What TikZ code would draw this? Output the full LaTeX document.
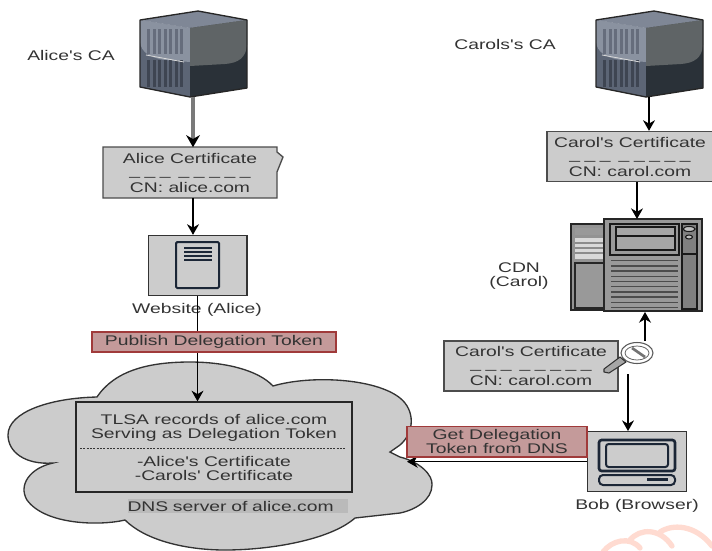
\documentclass[tikz,border=0pt]{standalone}
\usepackage{fontspec}
\newfontfamily\lblfont[FakeStretch=1.38]{Liberation Sans}
\usetikzlibrary{arrows.meta}
\definecolor{txt}{HTML}{333333}
\definecolor{boxgray}{HTML}{CCCCCC}
\definecolor{pinkfill}{HTML}{C49A9A}
\definecolor{pinkline}{HTML}{A03A3A}
\definecolor{navy}{HTML}{1B2636}
\definecolor{cubetop}{HTML}{7F8796}
\definecolor{cubeleft}{HTML}{5C6575}
\definecolor{cubegloss}{HTML}{8A92A0}
\definecolor{cubedark}{HTML}{2A3138}
\definecolor{cubemid}{HTML}{5F6466}
\definecolor{barhi}{HTML}{666D7C}
\definecolor{barlo}{HTML}{3E4552}
\definecolor{grayconn}{HTML}{7A7A7A}
\newcommand{\dashrow}{\_\hspace{3.4pt}\_\hspace{3.4pt}\_\hspace{6pt}\_\hspace{3.4pt}\_\hspace{3.4pt}\_\hspace{3.4pt}\_\hspace{3.4pt}\_}
\tikzset{
  x=0.75pt,y=-0.75pt,
  lbl/.style={font=\lblfont\fontsize{10.5}{10.5}\selectfont,text=txt,align=center,inner sep=0pt},
  certbox/.style={lbl,draw=black!70,line width=1pt,fill=boxgray,minimum width=#1*0.75pt,minimum height=37.5pt},
  iconbox/.style={draw=black!80,line width=1pt,fill=boxgray,minimum width=74pt,minimum height=45pt,inner sep=0pt},
  tagbox/.style={lbl,draw=pinkline,line width=1pt,fill=pinkfill},
  conn/.style={draw=black,line width=.9pt,-{Stealth[length=8pt,width=9pt]}},
  heavyconn/.style={draw=grayconn,line width=2.4pt},
  iconline/.style={draw=navy,line width=1.5pt,rounded corners=2pt},
}
\newcommand{\cubeicon}[2]{%
  \begin{scope}[shift={(#1,#2)}]
    \fill[cubeleft] (140,20)--(190,28)--(190,97)--(140,87)--cycle;
    \fill[cubegloss] (140,20)--(190,28)--(190,62)--(165,60) .. controls (150,58) and (141,52) .. (140,42)--cycle;
    \fill[cubetop] (140,20)--(198,11)--(247,20)--(190,28)--cycle;
    \fill[cubedark] (190,28)--(247,20)--(247,88)--(190,97)--cycle;
    \fill[cubemid] (190,28)--(247,20)--(247,45) .. controls (246,58) and (238,63) .. (225,64)--(190,66)--cycle;
    \foreach \xx in {147,152.5,158,163.5,169,174.5,180}{
      \fill[barhi] (\xx,29) rectangle (\xx+3,54);
      \fill[barlo] (\xx,60) rectangle (\xx+3,87);
    }
    \draw[white!70!gray,line width=.6pt] (146,55)--(184,62);
    \draw[black!85,line width=1pt,line join=round] (140,20)--(198,11)--(247,20)--(247,88)--(190,97)--(140,87)--cycle;
  \end{scope}}
\begin{document}
\begin{tikzpicture}
\useasboundingbox (0,0) rectangle (712,550);

% watermark
\draw[line width=4pt,draw=red!55!orange!18!white,line cap=round]
  (603,552) .. controls (612,540) and (630,536) .. (640,548)
  (630,540) .. controls (640,528) and (660,528) .. (672,546)
  (660,532) .. controls (672,524) and (695,524) .. (712,546);

% cloud
\path[fill=boxgray,draw=black!80,line width=1pt] (97,397)
  .. controls (115,370) and (150,362) .. (190,362)
  .. controls (225,362) and (258,370) .. (273,386)
  .. controls (310,375) and (375,378) .. (400,398)
  .. controls (415,410) and (415,432) .. (400,445)
  -- (390,452) -- (400,457)
  .. controls (420,462) and (433,475) .. (432,485)
  .. controls (432,500) and (415,510) .. (400,513)
  -- (355,518)
  .. controls (330,540) and (270,550) .. (225,550)
  .. controls (185,550) and (145,540) .. (125,520)
  .. controls (100,526) and (45,525) .. (27,500)
  .. controls (18,485) and (30,468) .. (53,463)
  .. controls (25,465) and (8,452) .. (8,435)
  .. controls (8,412) and (50,398) .. (97,397) -- cycle;

% CA servers
\cubeicon{0}{0}
\cubeicon{456}{0}
\coordinate (aliceca) at (193,97);
\coordinate (carolca) at (649,97);
\node[lbl] (alicecalabel) at (71,55) {Alice's CA};
\node[lbl] (carolcalabel) at (505,44) {Carols's CA};

% Alice certificate
\coordinate (notchtop) at (277,152);
\coordinate (notchtip) at (283,157);
\coordinate (notchend) at (277,172);
\path[fill=boxgray,draw=black!70,line width=1pt] (103,147) -- (277,147) -- (notchtop) -- (notchtip) -- (notchend) -- (277,198) -- (103,198) -- cycle;
\node[lbl,minimum width=130.5pt,minimum height=37.5pt] (acert) at (190,172.5) {Alice Certificate\\[-1.5pt]\dashrow\\[2.25pt]CN: alice.com};

% Website
\node[iconbox] (website) at (197.5,265.5) {};
\draw[iconline,fill=boxgray,rounded corners=1pt] (176,242) rectangle (219,288);
\foreach \yy in {248,252,256,260}{\draw[navy,line width=1pt] (184,\yy)--(212,\yy);}
\node[lbl] (websitelabel) at (197,310) {Website (Alice)};

% TLSA box
\node[lbl,draw=black!85,line width=1pt,fill=boxgray,minimum width=207pt,minimum height=67.5pt] (tlsa) at (214,447)
  {TLSA records of alice.com\\Serving as Delegation Token\\[10.5pt]-Alice's Certificate\\-Carols' Certificate};
\coordinate (sepl) at (80,448);
\coordinate (sepr) at (346,448);
\draw[black!80,line width=.6pt,dash pattern=on 1.5pt off 1pt] (sepl)--(sepr);
\node[lbl,fill=black!27,text width=165pt,align=left,minimum height=10.5pt] (dnslabel) at (237.5,506) {DNS server of alice.com};

% Carol top certificate
\node[certbox=166] (ccert) at (630,156.5) {Carol's Certificate\\[-1.5pt]\dashrow\\[2.25pt]CN: carol.com};

% CDN
\coordinate (cdntop) at (637,219);
\coordinate (cdnbottom) at (645,312);
\fill[gray!85,draw=black!85,line width=1pt] (571,224) rectangle (606,310);
\fill[black!40] (575,228) rectangle (604,235);
\fill[black!15] (575,238) rectangle (604,259);
\foreach \yy in {243,248,253}{\draw[black!45,line width=.8pt] (575,\yy)--(604,\yy);}
\fill[gray!80,draw=black!85,line width=1pt] (575,263) rectangle (606,308);
\path[fill=black!40,draw=black!85,line width=1pt] (604,219) rectangle (702,311);
\path[draw=black!90,line width=1pt,fill=black!40] (610,224) rectangle (679,255);
\path[draw=black!90,line width=1pt,fill=black!35] (616,227) rectangle (675,250);
\draw[black!90,line width=1pt] (616,236)--(675,236);
\path[draw=black!90,line width=1pt,fill=black!50] (682,224) rectangle (697,309);
\draw[black!90,line width=1pt] (682,254)--(697,254);
\draw[black!90,line width=.8pt,fill=black!25] (689,229) ellipse [x radius=6,y radius=2.5];
\draw[black!90,line width=.8pt,fill=black!25] (689,237) ellipse [x radius=3.5,y radius=2];
\foreach \yy in {260.7,265.9,271.1,276.3,281.5,286.7,291.9,297.1,302.3,307.5}{\draw[black!70,line width=1pt] (611,\yy)--(678,\yy);}
\node[lbl] (cdnlabel) at (519,276) {CDN\\(Carol)};

% Carol certificate with key
\node[certbox=174] (kcert) at (531,366) {Carol's Certificate\\[-1.5pt]\dashrow\\[2.25pt]CN: carol.com};
\coordinate (keytop) at (645,341);
\coordinate (keybottom) at (628,374);
\fill[white,draw=black!65,line width=.8pt] (637,353) ellipse [x radius=16,y radius=10.5];
\draw[black!60,line width=.6pt,fill=white] (637,353) ellipse [x radius=12,y radius=7];
\draw[black!55,line width=2pt] (632,348)--(645,357);
\draw[black!80,fill=black!35,line width=.8pt,line join=round] (620,357)--(626,362)--(609,373)--(604,372)--(604,369)--cycle;

% Bob
\node[iconbox] (bob) at (637,461.7) {};
\draw[iconline,line width=2pt] (599,440) rectangle (675,471);
\draw[iconline] (606,444) rectangle (668,467);
\draw[iconline,rounded corners=3pt,line width=1.5pt] (599,475) rectangle (675,485);
\fill[navy] (647,478) rectangle (668,481);
\node[lbl] (boblabel) at (637,506) {Bob (Browser)};
\coordinate (dnsin) at (407,461.7);

% connectors
\coordinate (acerttip) at (aliceca |- acert.north);
\coordinate (grayend) at (193,139);
\draw[heavyconn] (aliceca) -- (grayend);
\fill[black] (acerttip) -- (186,135) -- (grayend) -- (200,135) -- cycle;
\draw[conn] (acert.south -| aliceca) -- (aliceca |- website.north);
\draw[conn] (website.south) -- (website.south |- tlsa.north);
\draw[conn] (carolca) -- (carolca |- ccert.north);
\draw[conn] (cdntop |- ccert.south) -- (cdntop);
\draw[conn] (keytop) -- (cdnbottom);
\draw[conn] (keybottom) -- (keybottom |- bob.north);
\draw[conn] (bob.west) -- (dnsin);

% tags, on top of the connectors
\node[tagbox,minimum width=183pt,minimum height=15pt] (publish) at (214,342) {Publish Delegation Token};
\node[tagbox,minimum width=135pt,minimum height=23pt] (getdeleg) at (497,441.5) {Get Delegation\\Token from DNS};
\end{tikzpicture}
\end{document}
